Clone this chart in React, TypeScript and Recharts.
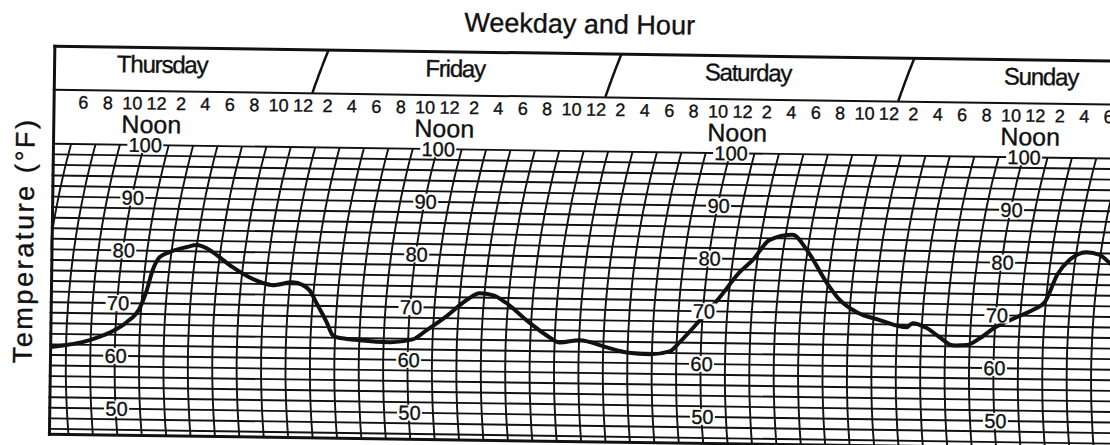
import { ComposedChart, Line, Scatter, XAxis, YAxis, CartesianGrid } from "recharts";

// chart paper: Thursday 4 AM .. Monday 0 AM, hours counted from Thursday midnight
const DAYS = ["Thursday", "Friday", "Saturday", "Sunday"];
const NOON_HOURS = [12, 36, 60, 84];
const SCALE_LABELS = [100, 90, 80, 70, 60, 50];
const HOUR_TICKS = [
  4, 6, 8, 10, 12, 14, 16, 18, 20, 22, 24, 26, 28, 30, 32, 34, 36, 38, 40, 42, 44, 46, 48, 50,
  52, 54, 56, 58, 60, 62, 64, 66, 68, 70, 72, 74, 76, 78, 80, 82, 84, 86, 88, 90, 92, 94, 96,
];
const TEMP_TICKS = [
  46, 48, 50, 52, 54, 56, 58, 60, 62, 64, 66, 68, 70, 72, 74, 76, 78, 80, 82, 84, 86, 88, 90,
  92, 94, 96, 98, 100,
];

// recorded trace
const TRACE_HOURS = [
  6.75, 9.93, 11.56, 12.94, 13.99, 14.55, 15.01, 15.57, 16.38, 17.78, 18.59, 19.41, 19.91, 21.56,
  22.97, 24.04, 24.86, 26.49, 27.32, 27.9, 28.48, 29.33, 29.83, 30.16, 32.05, 34.51, 36.39, 37.53,
  39.15, 40.77, 41.83, 42.89, 44.05, 45.71, 47.37, 48.44, 50.08, 52.3, 53.94, 55.83, 57.46, 58.27,
  60.12, 61.5, 63.1, 64.15, 65.53, 67.4, 68.57, 70.25, 71.33, 72.74, 74.63, 76.85, 77.33, 78.49,
  79.56, 80.63, 81.78, 82.84, 84.06, 85.84, 87.15, 88.12, 89.15, 90.12, 91.5, 92.58, 93.4, 94.0,
];
const TRACE_TEMPS = [
  61.5, 62.9, 64.4, 66.4, 69.1, 72.5, 76.3, 78.8, 79.8, 80.8, 81.2, 80.6, 79.9, 77.1,
  75.2, 74.2, 73.8, 74.4, 73.9, 72.9, 70.5, 66.9, 64.5, 64.1, 63.6, 63.3, 63.9, 65.7,
  68.4, 71.5, 72.8, 72.5, 71.0, 67.8, 65.0, 63.7, 64.2, 62.9, 62.0, 61.7, 62.3, 64.1,
  68.9, 72.7, 77.5, 79.8, 83.7, 84.7, 81.9, 75.7, 72.5, 70.2, 68.8, 67.5, 68.3, 67.4,
  65.7, 64.2, 64.3, 65.6, 67.7, 69.7, 71.1, 72.6, 78.0, 80.7, 82.2, 81.7, 80.2, 79.0,
];

const trace = TRACE_HOURS.map((h, i) => ({ h, t: TRACE_TEMPS[i] }));
const scaleMarks = NOON_HOURS.flatMap((h) => SCALE_LABELS.map((t) => ({ h, t })));

const FONT = '"Liberation Sans", Arial, Helvetica, sans-serif';
const INK = "#111";
const TEXT_STROKE = 0.35;

// layout
const PLOT_TOP = 143;
const PLOT_BOTTOM = 433.4;
const PLOT_LEFT = 22;
const CHART_W = 1145;
const CHART_H = 445;
const LABEL_ROW = 101.5;

// the pen arm swings, so the hour lines are arcs
const R = 850;
const YC = PLOT_TOP + ((100 - 60) / (100 - 45)) * (PLOT_BOTTOM - PLOT_TOP);
const arcOffset = (y: number) => R - Math.sqrt(R * R - (y - YC) * (y - YC));

const arcPath = (x: number, yFrom: number, yTo: number, shift = 0) => {
  let d = "";
  for (let i = 0; i <= 24; i++) {
    const yy = yFrom + ((yTo - yFrom) * i) / 24;
    d += (i ? "L" : "M") + (x + arcOffset(yy) + shift).toFixed(1) + "," + yy.toFixed(1);
  }
  return d;
};

const renderArc = (props: any) => {
  const { x1, y1, y2, index } = props;
  return <path key={`arc-${index}-${x1}`} d={arcPath(x1, y1, y2)} stroke={INK} strokeWidth={1.9} fill="none" />;
};

const textProps = { fontFamily: FONT, fill: INK, stroke: INK, strokeWidth: TEXT_STROKE };

const HourTick = (props: any) => {
  const { x, y, payload } = props;
  const h = payload.value as number;
  const hr = h % 24;
  const lx = x + arcOffset(LABEL_ROW);
  const text = hr % 12 === 0 ? "12" : String(hr % 12);
  const day = NOON_HOURS.indexOf(h);
  return (
    <g>
      {h >= 6 && (
        <text x={lx} y={y - 35.5} textAnchor="middle" fontSize={18} {...textProps}>
          {text}
        </text>
      )}
      {hr === 12 && (
        <text x={lx - 5} y={y - 12} textAnchor="middle" fontSize={25} {...textProps}>
          Noon
        </text>
      )}
      {day >= 0 && (
        <text x={lx + 5} y={y - 72.5} textAnchor="middle" fontSize={24} letterSpacing={-1.2} {...textProps}>
          {DAYS[day]}
        </text>
      )}
      {hr === 0 && h > 4 && (
        <path d={arcPath(x, y - 54.5, y - 97.5, 5)} stroke={INK} strokeWidth={2.5} fill="none" />
      )}
    </g>
  );
};

const ScaleLabel = (props: any) => {
  const { cx, cy, payload } = props;
  const lx = cx + arcOffset(cy) + 1;
  const txt = String(payload.t);
  const w = txt.length * 11 + 3;
  return (
    <g>
      <rect x={lx - w / 2} y={cy - 8} width={w} height={16} fill="#fff" />
      <text x={lx} y={cy} textAnchor="middle" dominantBaseline="central" fontSize={20} {...textProps}>
        {txt}
      </text>
    </g>
  );
};

export default function App() {
  return (
    <div style={{ position: "absolute", left: 0, top: 0, width: 1110, height: 445, overflow: "hidden", background: "#fff" }}>
      <div
        style={{
          position: "absolute",
          left: 0,
          top: 0,
          width: 1160,
          height: 445,
          transform: "rotate(0.8deg)",
          transformOrigin: "0 0",
          fontFamily: FONT,
          color: INK,
        }}
      >
        <ComposedChart
          width={CHART_W}
          height={CHART_H}
          margin={{ top: 0, left: PLOT_LEFT, right: 0, bottom: CHART_H - PLOT_BOTTOM }}
        >
          <CartesianGrid stroke={INK} strokeWidth={1.9} vertical={renderArc} syncWithTicks />
          <XAxis
            dataKey="h"
            type="number"
            orientation="top"
            domain={[4, 96]}
            ticks={HOUR_TICKS}
            interval={0}
            height={PLOT_TOP}
            axisLine={false}
            tickLine={false}
            tickSize={0}
            tickMargin={0}
            tick={(p: any) => <HourTick {...p} />}
          />
          <YAxis dataKey="t" type="number" domain={[45, 100]} ticks={TEMP_TICKS} interval={0} hide />
          <Scatter data={scaleMarks} shape={(p: any) => <ScaleLabel {...p} />} isAnimationActive={false} legendType="none" />
          <Line
            data={trace}
            dataKey="t"
            type="monotone"
            stroke={INK}
            strokeWidth={4}
            strokeLinejoin="round"
            dot={false}
            activeDot={false}
            isAnimationActive={false}
          />
        </ComposedChart>

        {/* paper edge left of the frame */}
        <div style={{ position: "absolute", left: 0, top: 138, width: 54, height: 300, background: "#fff" }} />
        {/* frame */}
        <div
          style={{
            position: "absolute",
            left: 54,
            top: 44,
            width: 1200,
            height: 391,
            boxSizing: "border-box",
            borderTop: `3px solid ${INK}`,
            borderLeft: `3px solid ${INK}`,
            borderBottom: `3px solid ${INK}`,
          }}
        />
        <div style={{ position: "absolute", left: 54, top: 87.5, width: 1200, height: 2.5, background: INK }} />

        <div
          style={{
            position: "absolute",
            left: 0,
            top: 3,
            width: 1160,
            textAlign: "center",
            fontSize: 27,
            lineHeight: "27px",
            WebkitTextStroke: `${TEXT_STROKE}px ${INK}`,
          }}
        >
          Weekday and Hour
        </div>
        <div
          style={{
            position: "absolute",
            left: 28.4,
            top: 240,
            transform: "translate(-50%, -50%) rotate(-90deg)",
            fontSize: 27,
            letterSpacing: 2.6,
            whiteSpace: "nowrap",
            WebkitTextStroke: `${TEXT_STROKE}px ${INK}`,
          }}
        >
          Temperature (°F)
        </div>
      </div>
    </div>
  );
}
